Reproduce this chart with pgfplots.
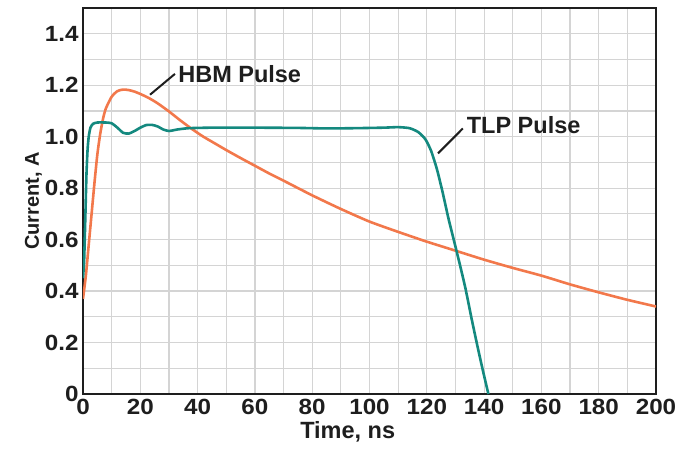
\documentclass[border=0pt]{standalone}
\usepackage{pgfplots}
\pgfplotsset{compat=1.18}
\usepackage{fontspec}
\setmainfont{Liberation Sans}
\newfontfamily\wide[FakeStretch=1.1]{Liberation Sans}
\definecolor{hbm}{HTML}{F2784B}
\definecolor{tlp}{HTML}{14897F}
\definecolor{txt}{HTML}{1E1E1E}
\definecolor{gridc}{HTML}{D4D4D4}
\begin{document}
\begin{tikzpicture}
\path[use as bounding box] (-83bp,-56bp) rectangle (593bp,394bp);
\begin{axis}[
  at={(0,0)}, anchor=south west,
  scale only axis, width=573bp, height=386bp,
  xmin=0, xmax=200, ymin=0, ymax=1.5,
  xtick={0,20,...,200},
  xticklabels={0,20,40,60,80,100,120,140,160,180,200},
  ytick={0,0.2,0.4,0.6,0.8,1.0,1.2,1.4},
  yticklabels={0,0.2,0.4,0.6,0.8,1.0,1.2,1.4},
  minor xtick={10,30,50,70,90,110,130,150,170,190},
  minor ytick={0.1,0.3,0.5,0.7,0.9,1.1,1.3,1.5},
  grid=both,
  major grid style={gridc, line width=1.2bp},
  minor grid style={gridc, line width=1.2bp},
  major tick length=0pt, minor tick length=0pt,
  axis line style={txt, line width=2.4bp},
  tick label style={font=\wide\fontsize{22bp}{25bp}\selectfont\bfseries, text=txt},
  xticklabel style={yshift=-2bp},
  yticklabel style={xshift=-1bp},
  xlabel={Time, ns},
  ylabel={Current, A},
  xlabel style={font=\fontsize{23.5bp}{26bp}\selectfont\bfseries, text=txt, at={(axis description cs:0.462,0)}, anchor=north, yshift=-24bp},
  ylabel style={font=\fontsize{20bp}{24bp}\selectfont\bfseries, text=txt, yshift=-4bp},
  clip=true,
]
% HBM pulse
\addplot[hbm, line width=2.6bp, smooth, tension=0.4] coordinates {
(0,0.37) (1,0.46) (2,0.58) (3,0.70) (4,0.82) (5,0.93) (6,1.01) (7,1.07) (8,1.11) (10,1.155) (12,1.177) (14,1.183) (16,1.181) (18,1.175) (20,1.166) (23,1.150) (26,1.130) (30,1.098) (34,1.063) (38,1.030) (42,1.000) (46,0.974) (50,0.948) (55,0.917) (60,0.887) (65,0.857) (70,0.829) (80,0.772) (90,0.719) (100,0.670) (110,0.630) (120,0.592) (130,0.557) (140,0.522) (150,0.490) (160,0.460) (170,0.426) (180,0.395) (190,0.366) (200,0.340)
};
% TLP pulse
\addplot[tlp, line width=2.6bp, smooth, tension=0.35] coordinates {
(0,0.45) (0.4,0.52) (0.8,0.68) (1.2,0.85) (1.6,0.95) (2,1.00) (2.6,1.035) (3.5,1.05) (5,1.055) (8,1.055) (10,1.052) (12,1.035) (14,1.015) (16,1.012) (18,1.022) (20,1.035) (22,1.045) (24,1.046) (26,1.040) (28,1.028) (30,1.022) (33,1.028) (37,1.033) (45,1.035) (60,1.035) (75,1.034) (85,1.032) (95,1.033) (105,1.035) (110,1.037) (114,1.033) (117,1.018) (119.5,0.99) (121.5,0.945) (123.5,0.875) (125.5,0.785) (127.5,0.685) (129.5,0.595) (131.5,0.505) (133.5,0.41) (135.5,0.30) (137.5,0.195) (139.5,0.095) (141.5,0.0)
};
% annotations
\draw[txt, line width=2bp] (axis cs:23.4,1.163) -- (axis cs:32.1,1.244);
\node[anchor=west, text=txt, font=\fontsize{23.5bp}{26bp}\selectfont\bfseries, inner sep=0pt] at (axis cs:33.2,1.245) {HBM Pulse};
\draw[txt, line width=2bp] (axis cs:123.9,0.935) -- (axis cs:132.6,1.032);
\node[anchor=west, text=txt, font=\fontsize{23.5bp}{26bp}\selectfont\bfseries, inner sep=0pt] at (axis cs:133.9,1.045) {TLP Pulse};
\end{axis}
\end{tikzpicture}
\end{document}
